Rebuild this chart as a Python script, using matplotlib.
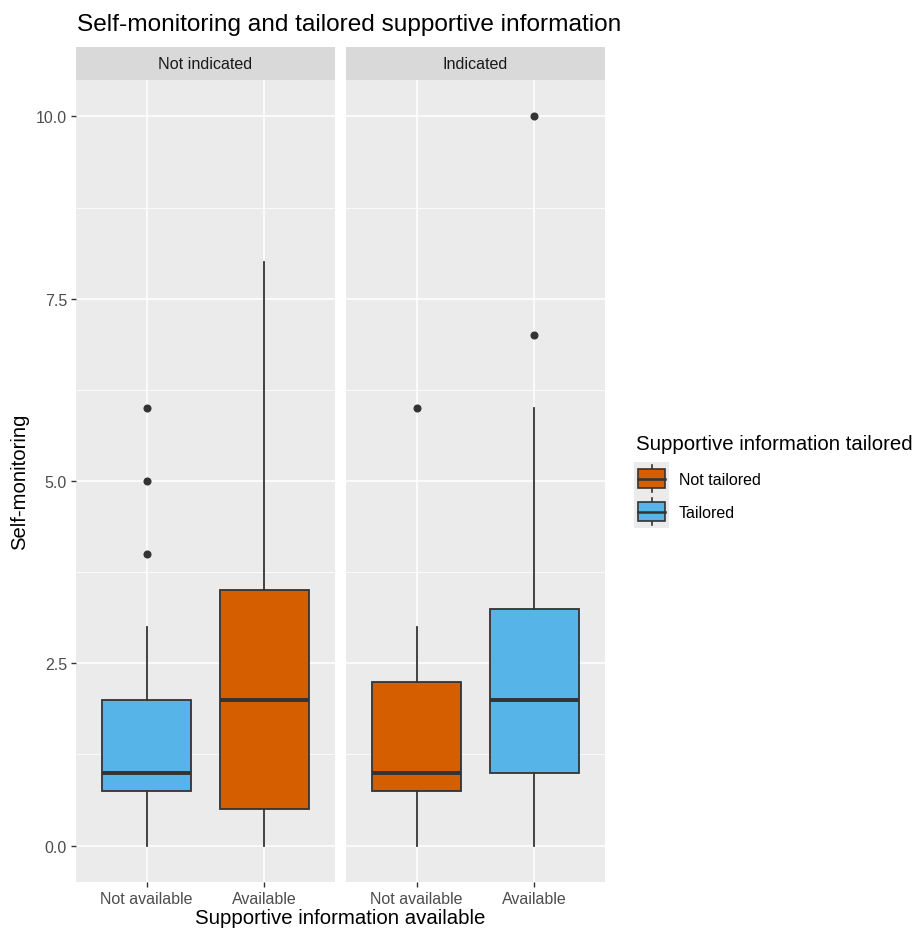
import matplotlib
matplotlib.use("Agg")
import matplotlib.pyplot as plt
from matplotlib.patches import Rectangle
from matplotlib.lines import Line2D

plt.rcParams['font.family'] = ['Liberation Sans', 'DejaVu Sans']

# ---- data ----
facets = ["Not indicated", "Indicated"]
x_categories = ["Not available", "Available"]
legend_labels = ["Not tailored", "Tailored"]
# per facet, per x category: (whislo, q1, med, q3, whishi), outliers, tailored-group
box_stats = {
    "Not indicated": [
        ((0, 0.75, 1, 2, 3), [4, 5, 6], "Tailored"),
        ((0, 0.5, 2, 3.5, 8), [], "Not tailored"),
    ],
    "Indicated": [
        ((0, 0.75, 1, 2.25, 3), [6], "Not tailored"),
        ((0, 1, 2, 3.25, 6), [7, 10], "Tailored"),
    ],
}
y_ticks = [0.0, 2.5, 5.0, 7.5, 10.0]
colors = {"Not tailored": "#D55E00", "Tailored": "#56B4E9"}

W, H = 919, 929
fig = plt.figure(figsize=(W / 100, H / 100), dpi=100)
fig.patch.set_facecolor("white")

def ax_rect(l, r, t, b):
    return [l / W, 1 - b / H, (r - l) / W, (b - t) / H]

panels = [(76, 335), (346, 605)]
top, bottom = 81, 883
strip_top = 48
line_col = "#333333"

for i, (fac, (l, r)) in enumerate(zip(facets, panels)):
    ax = fig.add_axes(ax_rect(l, r, top, bottom))
    ax.set_facecolor("#EBEBEB")
    ax.set_xlim(0.4, 2.6)
    ax.set_ylim(-0.5, 10.5)
    for y in y_ticks:
        ax.axhline(y, color="white", lw=1.1, zorder=0)
    for y in [1.25, 3.75, 6.25, 8.75]:
        ax.axhline(y, color="white", lw=0.55, zorder=0)
    for x in [1, 2]:
        ax.axvline(x, color="white", lw=1.1, zorder=0)
    stats = []
    for j, (s, fl, grp) in enumerate(box_stats[fac]):
        stats.append(dict(whislo=s[0], q1=s[1], med=s[2], q3=s[3], whishi=s[4], fliers=fl))
    bp = ax.bxp(stats, positions=[1, 2], widths=0.75, patch_artist=True, showcaps=False,
                boxprops=dict(edgecolor=line_col, linewidth=1.3),
                whiskerprops=dict(color=line_col, linewidth=1.3),
                medianprops=dict(color=line_col, linewidth=2.8, solid_capstyle="butt"),
                flierprops=dict(marker="o", markerfacecolor=line_col, markeredgecolor=line_col,
                                markersize=4.8, linestyle="none"),
                zorder=3)
    for patch, (s, fl, grp) in zip(bp["boxes"], box_stats[fac]):
        patch.set_facecolor(colors[grp])
    for sp in ax.spines.values():
        sp.set_visible(False)
    ax.set_xticks([1, 2])
    ax.set_xticklabels(x_categories, fontsize=11.5, color="#4D4D4D")
    ax.tick_params(axis="both", length=3.5, width=1, color="#333333", pad=3)
    ax.set_yticks(y_ticks)
    if i == 0:
        ax.set_yticklabels([f"{v:.1f}" for v in y_ticks], fontsize=11.5, color="#4D4D4D")
        ax.set_ylabel("Self-monitoring", fontsize=14.6, labelpad=5)
    else:
        ax.tick_params(axis="y", left=False, labelleft=False)
    # strip
    sax = fig.add_axes(ax_rect(l, r, strip_top, top))
    sax.set_facecolor("#D9D9D9")
    sax.set_xticks([]); sax.set_yticks([])
    for sp in sax.spines.values():
        sp.set_visible(False)
    sax.text(0.5, 0.5, fac, ha="center", va="center", fontsize=11.6, color="#1A1A1A",
             transform=sax.transAxes)

fig.text(77 / W, 1 - 25 / H, "Self-monitoring and tailored supportive information",
         fontsize=17.6, ha="left", va="center", color="black")
fig.text((76 + 605) / 2 / W, 1 - 919 / H, "Supportive information available",
         fontsize=14.7, ha="center", va="center", color="black")

# legend
fig.text(636 / W, 1 - 445 / H, "Supportive information tailored", fontsize=14.7,
         ha="left", va="center")
lax = fig.add_axes(ax_rect(634, 669, 463, 529))
lax.set_xlim(0, 1); lax.set_ylim(0, 2)
lax.axis("off")
for k, lab in enumerate(legend_labels):
    yc = 1.5 - k
    lax.add_patch(Rectangle((0, yc - 0.5), 1, 1, facecolor="#EBEBEB", edgecolor="none"))
    lax.add_line(Line2D([0.5, 0.5], [yc - 0.42, yc + 0.42], color=line_col, lw=1.2))
    lax.add_patch(Rectangle((0.12, yc - 0.3), 0.76, 0.6, facecolor=colors[lab],
                            edgecolor=line_col, lw=1.2, zorder=3))
    lax.add_line(Line2D([0.12, 0.88], [yc, yc], color=line_col, lw=1.8, zorder=4))
    fig.text(679 / W, 1 - (481 + 32.5 * k) / H, lab, fontsize=11.5, ha="left", va="center")

fig.savefig("out.png", dpi=100, facecolor="white")
